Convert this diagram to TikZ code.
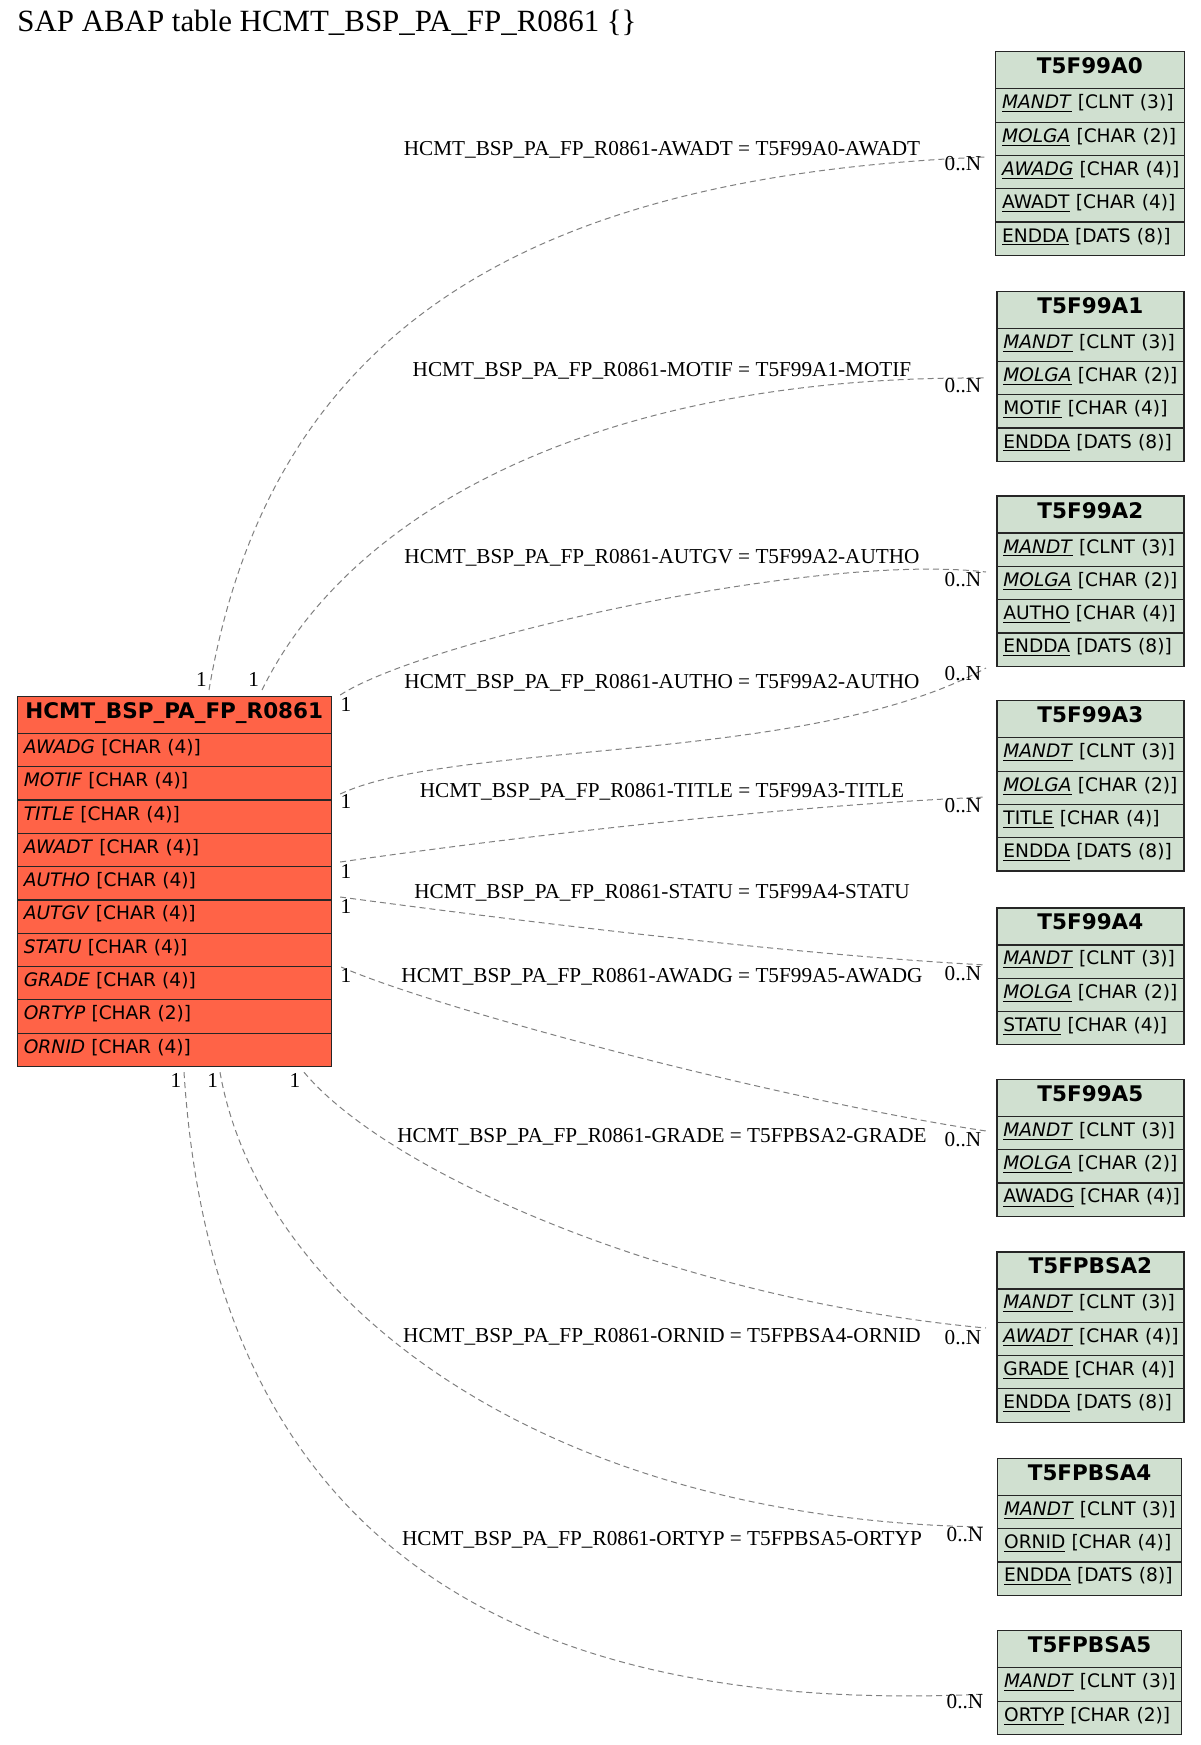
\documentclass[tikz,border=0pt]{standalone}
\usepackage{fontspec}
\setmainfont{Liberation Serif}
\newfontfamily\tblfont{DejaVu Sans}
\usetikzlibrary{calc}
\definecolor{maincol}{HTML}{FF6347}
\definecolor{tblcol}{HTML}{D0E0D0}
\definecolor{edgegray}{HTML}{808080}
\newcommand\sapki[1]{\underline{\textit{#1}}}
\newcommand\sapku[1]{\underline{#1}}
\newcommand\saptable[7]{%
  \pgfmathsetmacro\sapw{#4*0.5-6.5}%
  \node[thead, fill=#5, text width=\sapw pt] (#1) at (#2,#3) {\mbox{#6}};
  \foreach \r [count=\i] in {#7} {
    \pgfmathsetmacro\sapy{#3+37+(\i-1)*33.3}
    \node[tcell, fill=#5, text width=\sapw pt] (#1-\i) at (#2,\sapy) {\mbox{\r}};
  }
}
\tikzset{
  tcell/.style={draw=black!85, line width=0.6pt, anchor=north west, inner xsep=3.25pt, inner ysep=0pt,
    align=left, minimum height=16.65pt, text height=7.5pt, text depth=4.15pt,
    font=\tblfont\fontsize{9.3}{11.2}\selectfont},
  thead/.style={tcell, align=center, minimum height=18.5pt, text height=8pt, text depth=4.5pt,
    font=\tblfont\bfseries\fontsize{10.75}{12.8}\selectfont},
  rel/.style={draw=edgegray, line width=0.5pt, dash pattern=on 3pt off 2pt},
  elabel/.style={anchor=base, inner sep=0pt, font=\fontsize{10.62}{12}\selectfont},
}
\begin{document}
\begin{tikzpicture}[x=0.5pt,y=-0.5pt]
\fill[white] (0,0) rectangle (1200,1745);
\useasboundingbox (0,0) rectangle (1200,1745);

\node[anchor=base west, inner sep=0pt, font=\fontsize{15.45}{18}\selectfont] (title) at (17,32) {SAP ABAP table HCMT\_BSP\_PA\_FP\_R0861 \{\}};

\saptable{main}{16.7}{695.8}{313.9}{maincol}{HCMT\_BSP\_PA\_FP\_R0861}{\textit{AWADG} [CHAR (4)],\textit{MOTIF} [CHAR (4)],\textit{TITLE} [CHAR (4)],\textit{AWADT} [CHAR (4)],\textit{AUTHO} [CHAR (4)],\textit{AUTGV} [CHAR (4)],\textit{STATU} [CHAR (4)],\textit{GRADE} [CHAR (4)],\textit{ORTYP} [CHAR (2)],\textit{ORNID} [CHAR (4)]}

\saptable{a0}{995}{51.2}{188.5}{tblcol}{T5F99A0}{\sapki{MANDT} [CLNT (3)],\sapki{MOLGA} [CHAR (2)],\sapki{AWADG} [CHAR (4)],\sapku{AWADT} [CHAR (4)],\sapku{ENDDA} [DATS (8)]}
\saptable{a1}{996.3}{290.5}{187}{tblcol}{T5F99A1}{\sapki{MANDT} [CLNT (3)],\sapki{MOLGA} [CHAR (2)],\sapku{MOTIF} [CHAR (4)],\sapku{ENDDA} [DATS (8)]}
\saptable{a2}{996.3}{495.4}{187}{tblcol}{T5F99A2}{\sapki{MANDT} [CLNT (3)],\sapki{MOLGA} [CHAR (2)],\sapku{AUTHO} [CHAR (4)],\sapku{ENDDA} [DATS (8)]}
\saptable{a3}{996.3}{700.2}{187}{tblcol}{T5F99A3}{\sapki{MANDT} [CLNT (3)],\sapki{MOLGA} [CHAR (2)],\sapku{TITLE} [CHAR (4)],\sapku{ENDDA} [DATS (8)]}
\saptable{a4}{996.3}{907.3}{187}{tblcol}{T5F99A4}{\sapki{MANDT} [CLNT (3)],\sapki{MOLGA} [CHAR (2)],\sapku{STATU} [CHAR (4)]}
\saptable{a5}{996.3}{1078.7}{187}{tblcol}{T5F99A5}{\sapki{MANDT} [CLNT (3)],\sapki{MOLGA} [CHAR (2)],\sapku{AWADG} [CHAR (4)]}
\saptable{b2}{996.3}{1251.3}{187}{tblcol}{T5FPBSA2}{\sapki{MANDT} [CLNT (3)],\sapki{AWADT} [CHAR (4)],\sapku{GRADE} [CHAR (4)],\sapku{ENDDA} [DATS (8)]}
\saptable{b4}{997}{1457.7}{184}{tblcol}{T5FPBSA4}{\sapki{MANDT} [CLNT (3)],\sapku{ORNID} [CHAR (4)],\sapku{ENDDA} [DATS (8)]}
\saptable{b5}{997}{1630.2}{184}{tblcol}{T5FPBSA5}{\sapki{MANDT} [CLNT (3)],\sapku{ORTYP} [CHAR (2)]}

% connectors
\draw[rel] ([shift={(192.3,-5.8)}]main.north west) .. controls (272,320) and (540,175) .. ([shift={(-9,105.8)}]a0.north west);
\draw[rel] ([shift={(245.3,-5.8)}]main.north west) .. controls (350,510) and (600,375) .. ([shift={(-10.3,87.5)}]a1.north west);
\draw[rel] ([shift={(8.4,-0.8)}]main.north east) .. controls (425,640) and (815,552) .. ([shift={(-10.3,76.6)}]a2.north west);
\draw[rel] ([shift={(8.4,98.2)}]main.north east) .. controls (455,740) and (810,765) .. ([shift={(-10.3,172.6)}]a2.north west);
\draw[rel] ([shift={(8.4,166.2)}]main.north east) .. controls (550,832) and (800,805) .. ([shift={(-10.3,96.8)}]a3.north west);
\draw[rel] ([shift={(8.4,201.2)}]main.north east) .. controls (550,925) and (800,955) .. ([shift={(-10.3,57.7)}]a4.north west);
\draw[rel] ([shift={(9.4,271.2)}]main.north east) .. controls (440,1010) and (780,1100) .. ([shift={(-10.3,52.3)}]a5.north west);
\draw[rel] ([shift={(287.3,5.2)}]main-10.south west) .. controls (390,1175) and (680,1300) .. ([shift={(-10.3,76.7)}]b2.north west);
\draw[rel] ([shift={(203.3,5.2)}]main-10.south west) .. controls (260,1300) and (540,1520) .. ([shift={(-11,69.3)}]b4.north west);
\draw[rel] ([shift={(167.3,5.2)}]main-10.south west) .. controls (210,1480) and (440,1720) .. ([shift={(-11,63.8)}]b5.north west);

% connector labels
\node[elabel] (l1) at (662,155) {HCMT\_BSP\_PA\_FP\_R0861-AWADT = T5F99A0-AWADT};
\node[elabel] (l2) at (662,376.5) {HCMT\_BSP\_PA\_FP\_R0861-MOTIF = T5F99A1-MOTIF};
\node[elabel] (l3) at (662,563.5) {HCMT\_BSP\_PA\_FP\_R0861-AUTGV = T5F99A2-AUTHO};
\node[elabel] (l4) at (662,688.2) {HCMT\_BSP\_PA\_FP\_R0861-AUTHO = T5F99A2-AUTHO};
\node[elabel] (l5) at (662,797.3) {HCMT\_BSP\_PA\_FP\_R0861-TITLE = T5F99A3-TITLE};
\node[elabel] (l6) at (662,898.6) {HCMT\_BSP\_PA\_FP\_R0861-STATU = T5F99A4-STATU};
\node[elabel] (l7) at (662,982.1) {HCMT\_BSP\_PA\_FP\_R0861-AWADG = T5F99A5-AWADG};
\node[elabel] (l8) at (662,1142.4) {HCMT\_BSP\_PA\_FP\_R0861-GRADE = T5FPBSA2-GRADE};
\node[elabel] (l9) at (662,1342.7) {HCMT\_BSP\_PA\_FP\_R0861-ORNID = T5FPBSA4-ORNID};
\node[elabel] (l10) at (662,1545.4) {HCMT\_BSP\_PA\_FP\_R0861-ORTYP = T5FPBSA5-ORTYP};

% cardinalities
\node[elabel] (s1) at (201.5,686) {1};
\node[elabel] (s2) at (253.8,686) {1};
\node[elabel] (s3) at (346,711.5) {1};
\node[elabel] (s4) at (346,808.4) {1};
\node[elabel] (s5) at (346,878.5) {1};
\node[elabel] (s6) at (346,913) {1};
\node[elabel] (s7) at (346,982) {1};
\node[elabel] (s8) at (295,1087) {1};
\node[elabel] (s9) at (212.6,1087) {1};
\node[elabel] (s10) at (176,1087) {1};

\node[elabel] (t1) at (963,170.5) {0..N};
\node[elabel] (t2) at (963,392) {0..N};
\node[elabel] (t3) at (963,586) {0..N};
\node[elabel] (t4) at (963,680.4) {0..N};
\node[elabel] (t5) at (963,812) {0..N};
\node[elabel] (t6) at (963,980) {0..N};
\node[elabel] (t7) at (963,1146) {0..N};
\node[elabel] (t8) at (963,1344) {0..N};
\node[elabel] (t9) at (965,1541) {0..N};
\node[elabel] (t10) at (965,1708) {0..N};
\end{tikzpicture}
\end{document}
